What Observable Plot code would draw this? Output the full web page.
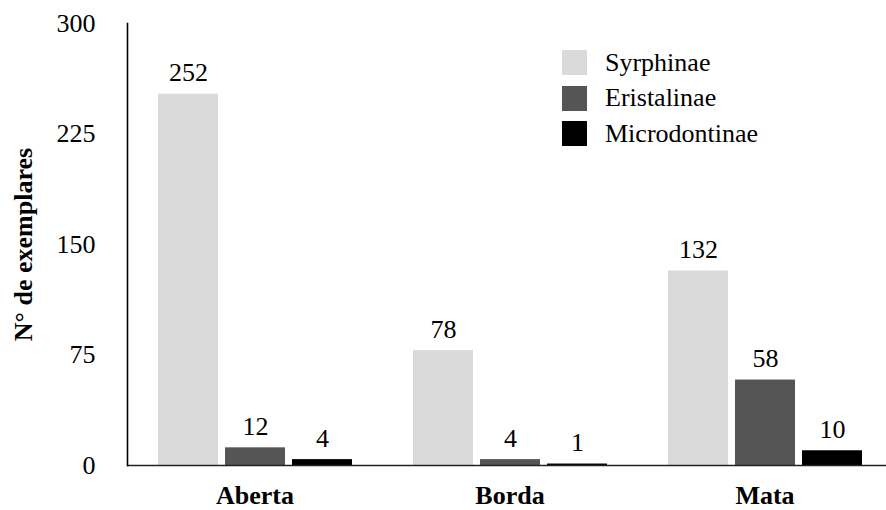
<!DOCTYPE html>
<html>
<head>
<meta charset="utf-8">
<script src="https://cdn.jsdelivr.net/npm/d3@7"></script>
<script src="https://cdn.jsdelivr.net/npm/@observablehq/plot@0.6"></script>
<style>
  body { margin: 0; background: #fff; }
  #chart { position: relative; width: 886px; height: 510px; font-family: "Liberation Serif", "Times New Roman", serif; }
  #legend { position: absolute; left: 562px; top: 50px; }
  .item { display: flex; align-items: center; height: 25px; margin-bottom: 10.5px; font-size: 26px; color: #000; }
  .sw { width: 25px; height: 25px; margin-right: 18px; }
</style>
</head>
<body>
<div id="chart"><div id="legend"></div></div>
<script>
// Sampling sites and hoverfly subfamilies
const locais = ["Aberta", "Borda", "Mata"];
const subfamilias = ["Syrphinae", "Eristalinae", "Microdontinae"];

// Number of specimens per site
const syrphinae = [252, 78, 132];
const eristalinae = [12, 4, 58];
const microdontinae = [4, 1, 10];

const cores = ["#dadada", "#555555", "#000000"];
const yTicks = [0, 75, 150, 225, 300];
const yTitulo = "N° de exemplares";

const series = [syrphinae, eristalinae, microdontinae];
const dados = locais.flatMap((local, i) =>
  subfamilias.map((sub, j) => ({local, sub, n: series[j][i]}))
);

const chart = Plot.plot({
  width: 886,
  height: 510,
  marginTop: 23,
  marginBottom: 45,
  marginLeft: 127,
  marginRight: 0,
  style: {fontFamily: "'Liberation Serif', 'Times New Roman', serif", fontSize: "26px", color: "#000", background: "#fff", overflow: "visible"},
  fx: {domain: locais, range: [127, 892], padding: 0},
  x: {domain: subfamilias, paddingInner: 0.1045, paddingOuter: 0.455, axis: null},
  y: {domain: [0, 300]},
  color: {domain: subfamilias, range: cores},
  marks: [
    Plot.barY(dados, {fx: "local", x: "sub", y: "n", fill: "sub"}),
    Plot.text(dados, {fx: "local", x: "sub", y: "n", text: d => String(d.n), lineAnchor: "bottom", dy: -13, fill: "#000"}),
    Plot.ruleY([0], {stroke: "#222", strokeWidth: 1.5}),
    Plot.frame({anchor: "left", facetAnchor: "left", stroke: "#000", strokeWidth: 1.6}),
    Plot.axisY({ticks: yTicks, tickSize: 0, tickPadding: 32, label: null}),
    Plot.axisY({ticks: [], label: yTitulo, labelAnchor: "center", labelOffset: 114, fontWeight: "bold", labelArrow: false}),
    Plot.axisFx({anchor: "bottom", tickSize: 0, tickPadding: 20, fontWeight: "bold", label: null})
  ]
});
document.getElementById("chart").prepend(chart);

const legend = document.getElementById("legend");
subfamilias.forEach((s, i) => {
  const row = document.createElement("div");
  row.className = "item";
  const sw = document.createElement("div");
  sw.className = "sw";
  sw.style.background = cores[i];
  const lab = document.createElement("span");
  lab.textContent = s;
  row.append(sw, lab);
  legend.append(row);
});
</script>
</body>
</html>
